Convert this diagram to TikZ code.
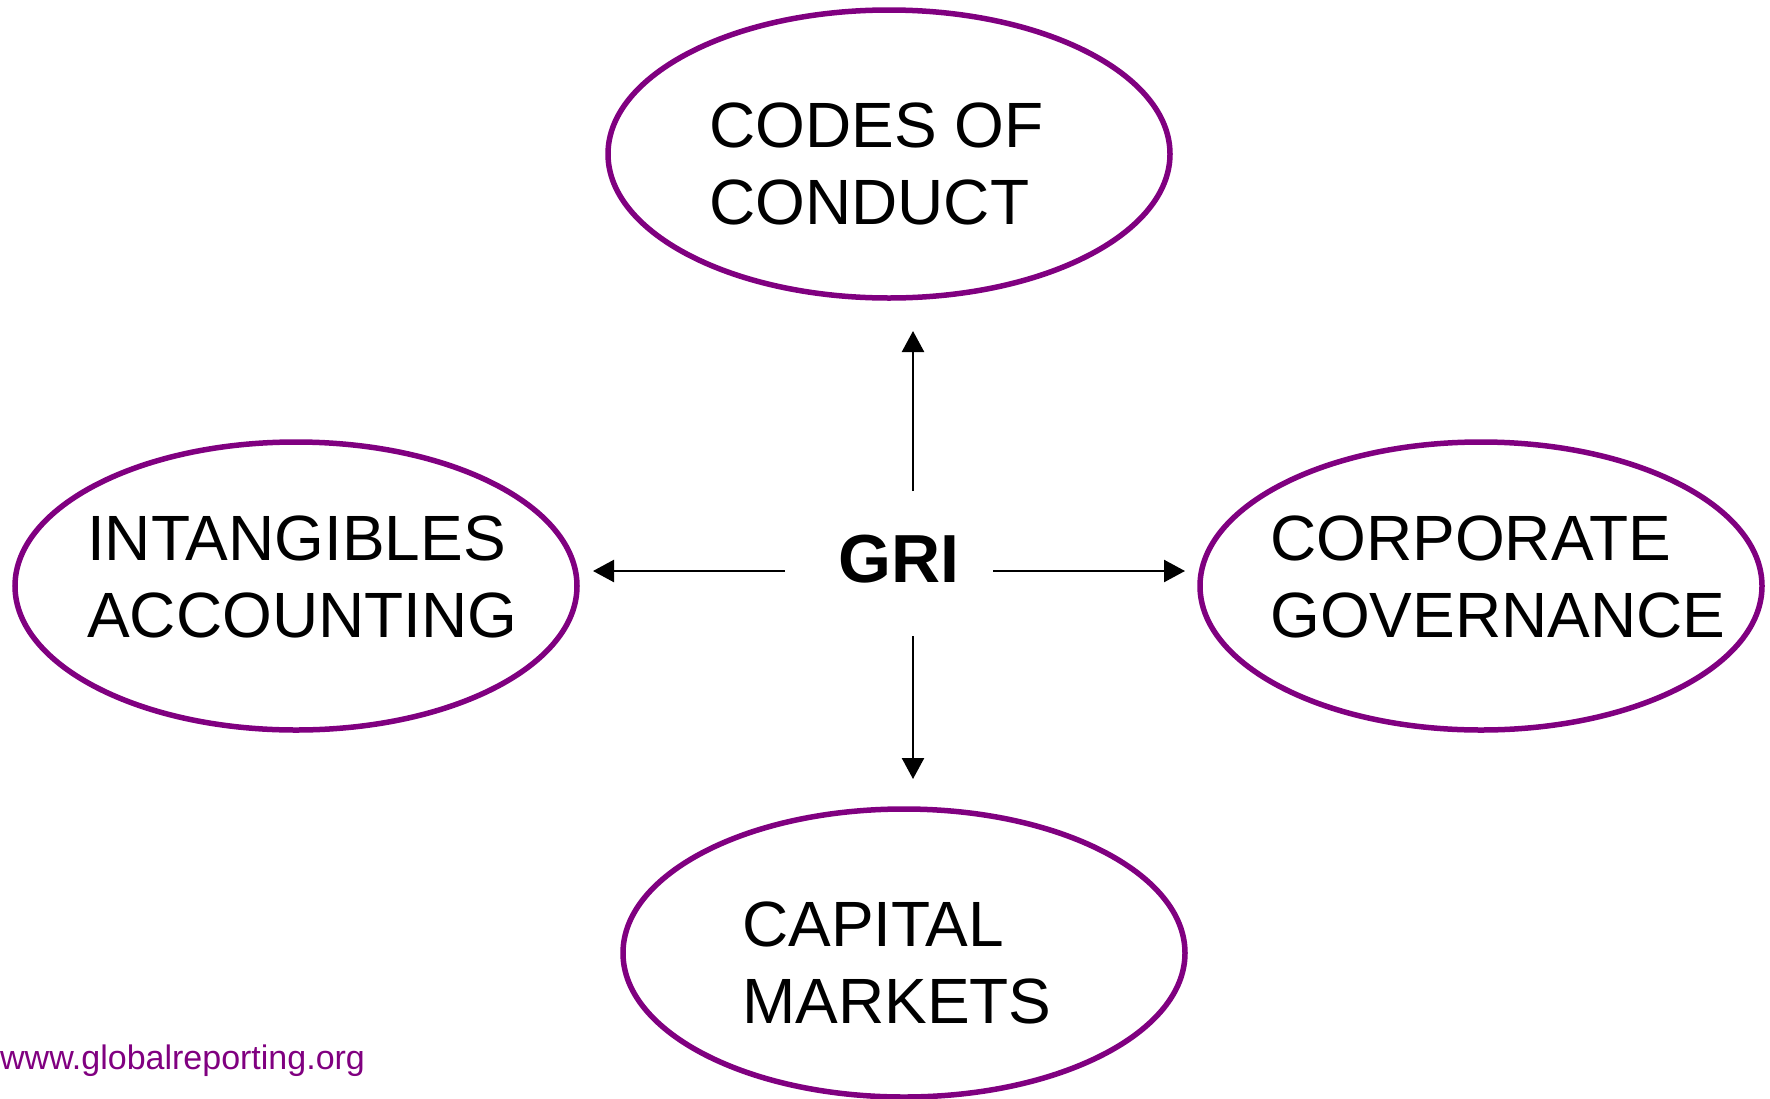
\documentclass[tikz,border=0pt]{standalone}
\usepackage{fontspec}
\setmainfont{Liberation Sans}
\usetikzlibrary{shapes.geometric,arrows.meta}
\definecolor{griPurple}{HTML}{800080}
\begin{document}
\begin{tikzpicture}[x=1pt,y=-1pt,
  topic/.style={ellipse,draw=griPurple,line width=5.5pt,minimum width=562pt,minimum height=288pt,inner sep=0pt},
  topictext/.style={anchor=north west,align=left,inner sep=0pt,font=\fontsize{64}{77}\selectfont},
  link/.style={line width=2.4pt,-{Triangle[length=21pt,width=22pt]}}]
\useasboundingbox (0,0) rectangle (1770,1098);

% four topic ellipses
\node[topic] (codes) at (889,154) {};
\node[topic] (intang) at (296,586) {};
\node[topic] (corp) at (1481,586) {};
\node[topic] (capital) at (904,953) {};

% their labels
\node[topictext] (codes-t) at (709,103) {CODES OF\\CONDUCT};
\node[topictext] (intang-t) at (87,516) {INTANGIBLES\\ACCOUNTING};
\node[topictext] (corp-t) at (1270,516) {CORPORATE\\GOVERNANCE};
\node[topictext] (capital-t) at (742,902) {CAPITAL\\MARKETS};

% centre
\node[anchor=base west,inner sep=0pt,font=\fontsize{68}{72}\selectfont\bfseries] (gri) at (838,582) {GRI};

% arrow ends
\coordinate (up-s) at (913,491);
\coordinate (up-e) at (913,331);
\coordinate (dn-s) at (913,636);
\coordinate (dn-e) at (913,779);
\coordinate (lf-s) at (785,571);
\coordinate (lf-e) at (593,571);
\coordinate (rt-s) at (993,571);
\coordinate (rt-e) at (1185,571);

\draw[link] (up-s) -- (up-e);
\draw[link] (dn-s) -- (dn-e);
\draw[link] (lf-s) -- (lf-e);
\draw[link] (rt-s) -- (rt-e);

% footer
\node[anchor=base west,inner sep=0pt,text=griPurple,font=\fontsize{34}{40}\selectfont] (site) at (0,1069) {www.globalreporting.org};
\end{tikzpicture}
\end{document}
